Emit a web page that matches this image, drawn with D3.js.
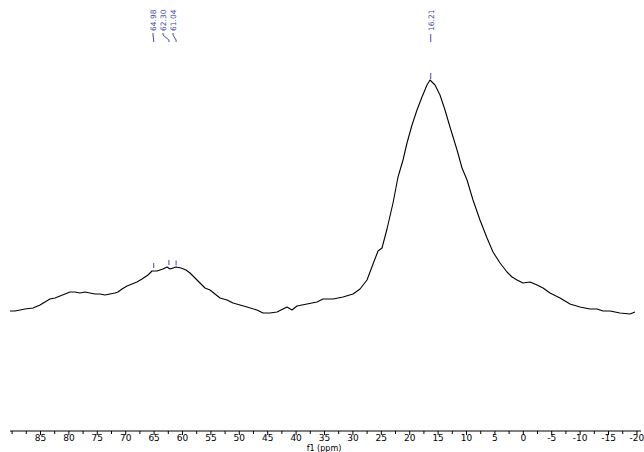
<!DOCTYPE html>
<html>
<head>
<meta charset="utf-8">
<script src="https://cdn.jsdelivr.net/npm/d3@7"></script>
<style>
  body { margin: 0; background: #fff; }
  svg { display: block; font-family: "DejaVu Sans", Verdana, sans-serif; }
</style>
</head>
<body>
<svg class="grafico" width="644" height="452"></svg>
<script>
// espectro (ppm, intensidade relativa)
const ppm = [90.28, 89.40, 88.52, 87.64, 86.23, 85.00, 84.12, 83.24, 82.36, 81.48,
  80.60, 79.72, 78.84, 77.96, 77.08, 76.20, 75.32, 74.44, 73.56, 72.68,
  71.80, 71.27, 70.56, 69.68, 68.80, 67.92, 67.04, 65.99, 65.28, 64.40,
  63.35, 62.64, 62.10, 61.60, 61.06, 60.18, 59.30, 58.59, 57.71, 56.83,
  55.95, 55.07, 54.19, 53.31, 52.08, 51.02, 49.79, 48.56, 46.80, 45.74,
  44.51, 43.27, 42.22, 41.51, 40.63, 39.75, 37.99, 36.23, 35.18, 33.42,
  31.65, 29.89, 28.66, 27.43, 26.37, 25.49, 24.79, 23.91, 22.85, 21.97,
  21.09, 20.39, 19.51, 18.63, 17.75, 16.87, 16.34, 15.46, 14.58, 13.70,
  12.82, 11.58, 10.70, 9.82, 8.77, 7.54, 6.30, 5.25, 4.01, 2.78,
  1.90, 1.02, -0.04, -1.27, -2.50, -3.56, -4.79, -6.55, -8.31, -10.07,
  -11.83, -13.06, -14.12, -15.35, -17.11, -18.87, -19.75];
const intensidade = [7.6, 7.6, 8.0, 8.4, 8.8, 10.0, 11.2, 12.4, 12.8, 13.6,
  14.4, 15.2, 15.2, 14.8, 15.2, 14.8, 14.4, 14.4, 14.0, 14.4,
  14.8, 15.2, 16.4, 17.6, 18.4, 19.2, 20.4, 22.0, 23.6, 23.6,
  24.4, 25.2, 24.4, 24.8, 25.2, 24.8, 24.0, 22.8, 20.8, 18.8,
  16.8, 16.0, 14.4, 12.8, 12.0, 10.8, 10.0, 9.2, 8.0, 6.8,
  6.8, 7.2, 8.4, 9.2, 8.0, 9.6, 10.4, 11.2, 12.4, 12.4,
  13.2, 14.4, 16.4, 20.0, 26.4, 31.6, 32.8, 40.4, 50.8, 61.2,
  68.0, 74.8, 82.0, 88.0, 93.2, 98.0, 100.0, 98.0, 94.0, 88.0,
  81.2, 72.0, 64.8, 60.0, 52.0, 44.0, 36.8, 31.2, 26.8, 23.2,
  21.2, 20.0, 18.8, 19.2, 18.0, 16.8, 14.8, 12.8, 10.4, 9.2,
  8.4, 8.4, 7.6, 7.6, 6.8, 6.4, 7.2];

// picos marcados
const picos_grupo = [64.98, 62.30, 61.04];
const picos_intens = [24.0, 25.2, 25.0];
const pico_isolado = 16.21;

const ticks_major = [85, 80, 75, 70, 65, 60, 55, 50, 45, 40, 35, 30, 25, 20, 15, 10, 5, 0, -5, -10, -15, -20];

const dados = ppm.map((p, i) => ({ ppm: p, y: intensidade[i] }));

const $svg = d3.select(".grafico");
const AZUL = "#4848b0";
const Y_EIXO = 431;

const x = d3.scaleLinear().domain([90.28, -20.63]).range([10, 640]);
const y = d3.scaleLinear().domain([0, 100]).range([330, 80]);

// eixo
const eixo = d3.axisBottom(x)
  .tickValues(d3.range(-20, 90.1, 2.5))
  .tickSize(3)
  .tickFormat(d => ticks_major.includes(d) ? d : "");

const $eixo = $svg.append("g")
  .attr("transform", `translate(0,${Y_EIXO})`)
  .call(eixo);
$eixo.select(".domain").attr("d", `M10,0H641`).attr("stroke", "#000");
$eixo.selectAll(".tick line").attr("stroke", "#000")
  .attr("y2", d => ticks_major.includes(d) ? 4 : 3);
$eixo.selectAll(".tick text")
  .attr("y", 4)
  .attr("font-size", 9)
  .attr("font-family", "DejaVu Sans, Verdana, sans-serif")
  .attr("fill", "#000");

$svg.append("text")
  .attr("x", x(35))
  .attr("y", 451)
  .attr("text-anchor", "middle")
  .attr("font-size", 8)
  .text("f1 (ppm)");

// espectro
const linha = d3.line().x(d => x(d.ppm)).y(d => y(d.y));
$svg.append("path")
  .datum(dados)
  .attr("d", linha)
  .attr("fill", "none")
  .attr("stroke", "#000")
  .attr("stroke-width", 1.1)
  .attr("stroke-linejoin", "round");

// rótulos dos picos
const labels_x = [153, 163, 173];
picos_grupo.forEach((p, i) => {
  const lx = labels_x[i];
  $svg.append("text")
    .attr("transform", `translate(${lx + 3},31) rotate(-90)`)
    .attr("font-size", 7.5)
    .attr("fill", AZUL)
    .text(p.toFixed(2));
  $svg.append("path")
    .attr("d", `M${lx},33 L${lx},35 L${x(p)},40 L${x(p)},42`)
    .attr("fill", "none")
    .attr("stroke", AZUL)
    .attr("stroke-width", 1);
  $svg.append("line")
    .attr("x1", x(p)).attr("x2", x(p))
    .attr("y1", y(picos_intens[i]) - 7).attr("y2", y(picos_intens[i]) - 2)
    .attr("stroke", AZUL).attr("stroke-width", 1);
});

$svg.append("text")
  .attr("transform", `translate(${x(pico_isolado) + 3},31) rotate(-90)`)
  .attr("font-size", 7.5)
  .attr("fill", AZUL)
  .text(pico_isolado.toFixed(2));
$svg.append("line")
  .attr("x1", x(pico_isolado)).attr("x2", x(pico_isolado))
  .attr("y1", 34).attr("y2", 42)
  .attr("stroke", AZUL).attr("stroke-width", 1);
$svg.append("line")
  .attr("x1", x(pico_isolado)).attr("x2", x(pico_isolado))
  .attr("y1", y(100) - 7).attr("y2", y(100) - 1)
  .attr("stroke", AZUL).attr("stroke-width", 1);
</script>
</body>
</html>
